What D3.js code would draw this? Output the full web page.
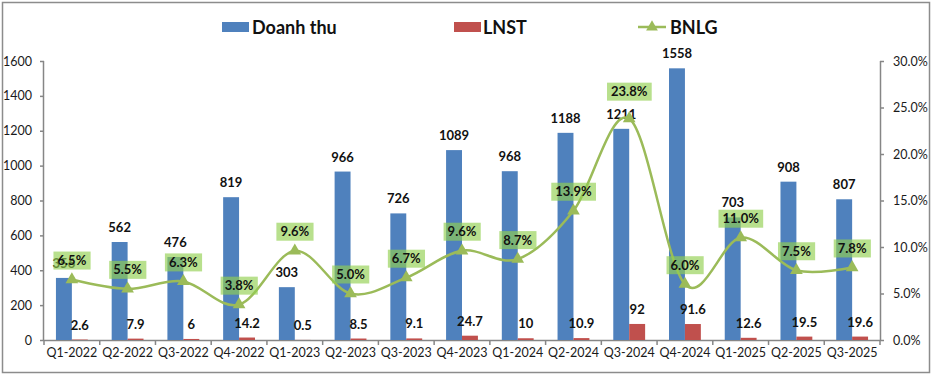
<!DOCTYPE html>
<html>
<head>
<meta charset="utf-8">
<script src="https://cdn.jsdelivr.net/npm/d3@7"></script>
<style>
  html, body { margin: 0; padding: 0; background: #fff; }
  svg { display: block; font-family: Lato, "Open Sans", sans-serif; }
</style>
</head>
<body>
<svg id="chart" width="936" height="380"></svg>
<script>
const categories = ["Q1-2022","Q2-2022","Q3-2022","Q4-2022","Q1-2023","Q2-2023","Q3-2023","Q4-2023","Q1-2024","Q2-2024","Q3-2024","Q4-2024","Q1-2025","Q2-2025","Q3-2025"];
const doanhThu = [356, 562, 476, 819, 303, 966, 726, 1089, 968, 1188, 1211, 1558, 703, 908, 807];
const lnst = [2.6, 7.9, 6, 14.2, 0.5, 8.5, 9.1, 24.7, 10, 10.9, 92, 91.6, 12.6, 19.5, 19.6];
const bnlg = [0.065, 0.055, 0.063, 0.038, 0.096, 0.050, 0.067, 0.096, 0.087, 0.139, 0.238, 0.060, 0.110, 0.075, 0.078];
const leftTicks = [0, 200, 400, 600, 800, 1000, 1200, 1400, 1600];
const rightTicks = [0, 0.05, 0.10, 0.15, 0.20, 0.25, 0.30];

const BLUE = "#4F81BD", RED = "#C0504D", GREEN = "#9BBB59", AXIS = "#868686";
const svg = d3.select("#chart");
const m = { left: 44, right: 880, top: 61, bottom: 340 };

// frame
svg.append("rect").attr("x", 2.5).attr("y", 2.5).attr("width", 927).attr("height", 370)
  .attr("fill", "#fff").attr("stroke", "#8c8c8c").attr("stroke-width", 1.5);

const x = d3.scaleBand().domain(categories).range([m.left, m.right]);
const xs = d3.scaleBand().domain(["dt", "ln"]).range([0, x.bandwidth()]).paddingInner(0).paddingOuter(0.75);
const yL = d3.scaleLinear().domain([0, 1600]).range([m.bottom, m.top]);
const yR = d3.scaleLinear().domain([0, 0.30]).range([m.bottom, m.top]);

// axes
const gL = svg.append("g").attr("transform", `translate(${m.left},0)`)
  .call(d3.axisLeft(yL).tickValues(leftTicks).tickSize(4).tickPadding(8).tickFormat(d3.format("d")));
const gR = svg.append("g").attr("transform", `translate(${m.right},0)`)
  .call(d3.axisRight(yR).tickValues(rightTicks).tickSize(4).tickPadding(9).tickFormat(d3.format(".1%")));
const gB = svg.append("g").attr("transform", `translate(0,${m.bottom})`)
  .call(d3.axisBottom(x).tickSize(0).tickPadding(8));
[gL, gR, gB].forEach(g => {
  g.select(".domain").attr("stroke", AXIS).attr("stroke-width", 1.5);
  g.selectAll(".tick line").attr("stroke", AXIS).attr("stroke-width", 1.5);
  g.selectAll("text").attr("fill", "#1a1a1a").style("font-size", "12.5px")
    .style("font-family", "Lato, 'Open Sans', sans-serif");
});
gL.select(".domain").attr("d", `M-0.5,${m.top}V${m.bottom}`);
gR.select(".domain").attr("d", `M0.5,${m.top}V${m.bottom}`);
gB.select(".domain").attr("d", `M${m.left},0.5H${m.right}`);
// category separator ticks
gB.selectAll(".sep").data(d3.range(categories.length + 1)).enter().append("line")
  .attr("x1", i => m.left + i * x.step()).attr("x2", i => m.left + i * x.step())
  .attr("y1", 0).attr("y2", 5).attr("stroke", AXIS).attr("stroke-width", 1.5);

// bars
svg.append("g").selectAll("rect").data(categories).enter().append("rect")
  .attr("x", c => x(c) + xs("dt")).attr("width", xs.bandwidth())
  .attr("y", (c, i) => yL(doanhThu[i])).attr("height", (c, i) => yL(0) - yL(doanhThu[i]))
  .attr("fill", BLUE);
svg.append("g").selectAll("rect").data(categories).enter().append("rect")
  .attr("x", c => x(c) + xs("ln")).attr("width", xs.bandwidth())
  .attr("y", (c, i) => yL(lnst[i])).attr("height", (c, i) => yL(0) - yL(lnst[i]))
  .attr("fill", RED);

// bar labels
const lblStyle = sel => sel.attr("text-anchor", "middle").attr("font-weight", "bold")
  .style("font-size", "13px").attr("fill", "#111");
svg.append("g").selectAll("text").data(categories).enter().append("text")
  .attr("x", c => x(c) + xs("dt") + xs.bandwidth() / 2)
  .attr("y", (c, i) => yL(doanhThu[i]) - 10)
  .text((c, i) => doanhThu[i]).call(lblStyle);
svg.append("g").selectAll("text").data(categories).enter().append("text")
  .attr("x", c => x(c) + xs("ln") + xs.bandwidth() / 2)
  .attr("y", (c, i) => yL(lnst[i]) - 10)
  .text((c, i) => lnst[i]).call(lblStyle);

// BNLG line
const pts = categories.map((c, i) => [x(c) + x.bandwidth() / 2, yR(bnlg[i])]);
svg.append("path").attr("d", d3.line().curve(d3.curveCardinal.tension(0))(pts))
  .attr("fill", "none").attr("stroke", GREEN).attr("stroke-width", 2.5);
svg.append("g").selectAll("path").data(pts).enter().append("path")
  .attr("transform", p => `translate(${p[0]},${p[1]})`)
  .attr("d", d3.symbol().type(d3.symbolTriangle).size(70)).attr("fill", GREEN);

// BNLG labels with boxes (peak label lifted clear of the bar label, as in the reference)
const fmtP = d3.format(".1%");
const maxIdx = d3.maxIndex(bnlg);
const lg = svg.append("g").selectAll("g").data(pts).enter().append("g")
  .attr("transform", (p, i) => `translate(${p[0]},${p[1] - (i === maxIdx ? 27 : 19)})`);
lg.append("text").attr("text-anchor", "middle").attr("dy", "0.35em")
  .attr("font-weight", "bold").style("font-size", "13px").attr("fill", "#111")
  .text((p, i) => fmtP(bnlg[i]));
lg.each(function () {
  const g = d3.select(this);
  const bb = g.select("text").node().getBBox();
  g.insert("rect", "text").attr("x", bb.x - 4).attr("y", -9).attr("width", bb.width + 8).attr("height", 18)
    .attr("fill", "rgba(146,208,80,0.65)");
});

// legend
const leg = svg.append("g").style("font-size", "18px").attr("font-weight", "bold").attr("fill", "#111");
leg.append("rect").attr("x", 222).attr("y", 22).attr("width", 27).attr("height", 10).attr("fill", BLUE);
leg.append("text").attr("x", 252).attr("y", 34).text("Doanh thu");
leg.append("rect").attr("x", 454).attr("y", 22).attr("width", 27).attr("height", 10).attr("fill", RED);
leg.append("text").attr("x", 483).attr("y", 34).text("LNST");
leg.append("line").attr("x1", 638).attr("x2", 666).attr("y1", 27).attr("y2", 27)
  .attr("stroke", GREEN).attr("stroke-width", 2.5);
leg.append("path").attr("transform", "translate(652,27)")
  .attr("d", d3.symbol().type(d3.symbolTriangle).size(60)).attr("fill", GREEN);
leg.append("text").attr("x", 670).attr("y", 34).text("BNLG");
</script>
</body>
</html>
